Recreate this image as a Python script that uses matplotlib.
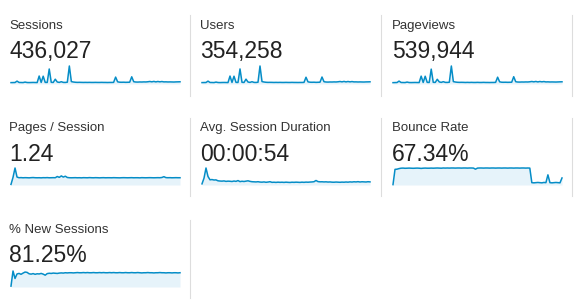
import matplotlib.pyplot as plt

W, H = 580, 307

titles = ["Sessions", "Users", "Pageviews",
          "Pages / Session", "Avg. Session Duration", "Bounce Rate",
          "% New Sessions"]
totals = ["436,027", "354,258", "539,944",
          "1.24", "00:00:54", "67.34%",
          "81.25%"]

sessions = [2300, 2400, 2500, 4800, 2600, 2500, 2400, 3200, 2500, 2400,
            2500, 2600, 2500, 2400, 13300, 2600, 13000, 2700, 2600, 25000,
            2800, 2600, 8000, 3300, 2700, 3800, 2700, 2600, 3000, 30000,
            4000, 3300, 2900, 2700, 2800, 2700, 2600, 2700, 2600, 2700,
            2600, 2600, 2700, 2600, 2600, 2700, 2600, 2600, 2500, 2600,
            2600, 2700, 11500, 3600, 3000, 2900, 3000, 2800, 2900, 3000,
            12000, 3800, 3300, 3200, 3400, 3300, 3500, 3400, 3700, 4200,
            3600, 4300, 3500, 4200, 3600, 4100, 3500, 3600, 3400, 3500,
            3400, 3300, 3500, 3600, 3700]

users = [1900, 2000, 2050, 3900, 2100, 2050, 1950, 2600, 2050, 1950,
         2050, 2100, 2050, 1950, 10800, 2100, 10600, 2200, 2100, 20500,
         2300, 2100, 6600, 2700, 2200, 3100, 2200, 2100, 2400, 24500,
         3300, 2700, 2350, 2200, 2250, 2200, 2100, 2200, 2100, 2200,
         2100, 2100, 2200, 2100, 2100, 2200, 2100, 2100, 2050, 2100,
         2100, 2200, 9200, 2900, 2450, 2350, 2450, 2250, 2350, 2450,
         9500, 3100, 2700, 2600, 2750, 2700, 2850, 2750, 3000, 3400,
         2900, 3500, 2850, 3400, 2900, 3300, 2850, 2900, 2750, 2850,
         2750, 2700, 2850, 2900, 3000]

pageviews = [2800, 3000, 3100, 6000, 3200, 3100, 3000, 4000, 3100, 3000,
             3100, 3200, 3100, 3000, 16400, 3200, 16200, 3400, 3200, 31000,
             3500, 3300, 9800, 4300, 3400, 4800, 3400, 3300, 3700, 37500,
             5000, 4100, 3600, 3400, 3500, 3400, 3200, 3400, 3200, 3400,
             3200, 3200, 3400, 3200, 3200, 3400, 3200, 3200, 3100, 3200,
             3200, 3400, 14200, 4500, 3700, 3600, 3700, 3500, 3600, 3700,
             15200, 4700, 4100, 4000, 4200, 4100, 4300, 4200, 4600, 5200,
             4500, 5300, 4300, 5200, 4500, 5100, 4300, 4500, 4200, 4300,
             4200, 4100, 4300, 4500, 4600]

pages_per_session = [0.10, 1.30, 2.90, 1.35, 1.24, 1.26, 1.23, 1.25, 1.24, 1.22,
                     1.25, 1.27, 1.24, 1.23, 1.24, 1.22, 1.25, 1.24, 1.26, 1.23,
                     1.24, 1.25, 1.24, 1.45, 1.30, 1.55, 1.35, 1.50, 1.28, 1.24,
                     1.23, 1.24, 1.25, 1.23, 1.24, 1.22, 1.25, 1.24, 1.23, 1.26,
                     1.24, 1.23, 1.25, 1.24, 1.22, 1.24, 1.25, 1.23, 1.24, 1.24,
                     1.23, 1.25, 1.24, 1.23, 1.22, 1.24, 1.25, 1.24, 1.23, 1.24,
                     1.25, 1.23, 1.24, 1.24, 1.22, 1.25, 1.24, 1.23, 1.24, 1.25,
                     1.24, 1.23, 1.24, 1.25, 1.24, 1.28, 1.42, 1.26, 1.24, 1.25,
                     1.23, 1.24, 1.25, 1.24, 1.24]

avg_duration = [20, 120, 300, 150, 92, 96, 88, 90, 74, 70,
                68, 72, 64, 68, 66, 62, 70, 64, 78, 60,
                66, 62, 68, 74, 64, 58, 56, 54, 58, 52,
                50, 54, 48, 52, 58, 47, 49, 46, 50, 47,
                49, 46, 50, 47, 45, 49, 47, 50, 48, 46,
                50, 47, 51, 49, 52, 54, 58, 80, 60, 56,
                57, 54, 56, 52, 54, 50, 49, 52, 50, 48,
                51, 49, 53, 50, 55, 52, 57, 54, 59, 53,
                57, 55, 53, 58, 55]

bounce_rate = [2, 80, 81, 84, 86, 86.5, 85.5, 86, 86.5, 86,
               85.5, 86, 86.5, 86, 85, 86, 86.5, 86, 86, 86.5,
               86, 86.5, 87, 86.5, 86, 87, 86.5, 87, 86.5, 87,
               87, 86.5, 87, 87, 86.5, 87, 87, 86.5, 87, 87,
               86.5, 81, 86.5, 87, 87, 86.5, 87, 87, 86.5, 87,
               87, 86.5, 87, 87, 86.5, 87, 87, 86.5, 87, 87,
               86.5, 87, 87, 86.5, 87, 87, 86.5, 87, 86.5, 12,
               11, 12, 13, 12, 11, 13, 12, 52, 12, 11,
               12, 13, 12, 11, 36]

new_sessions = [5, 92, 49, 75, 78, 73, 80, 86, 84, 76,
                74, 77, 73, 76, 75, 78, 74, 68, 77, 79,
                78, 80, 79, 78, 80, 81, 80, 82, 81, 82,
                82, 81, 82, 83, 82, 82, 83, 82, 83, 82,
                82, 83, 82, 82, 83, 82, 83, 82, 82, 83,
                82, 83, 82, 82, 83, 82, 82, 83, 82, 82,
                83, 82, 82, 83, 82, 81, 82, 82, 83, 82,
                82, 81, 82, 82, 83, 82, 82, 81, 82, 82,
                81, 82, 82, 81, 82]

series = [sessions, users, pageviews,
          pages_per_session, avg_duration, bounce_rate,
          new_sessions]

# layout in pixels
text_x = [9, 200, 392]
spark_x = [(11, 180), (202, 370), (393, 562)]
spark_y = [(66, 84), (168, 185), (271, 287)]
label_y = [29, 131, 233]
number_y = [58, 161, 262]
sep_x = [189.5, 380.5, 572]
sep_y = [(15, 96), (118, 196), (220, 298)]

LINE = "#058dc7"
FILL = "#e6f3fa"

fig = plt.figure(figsize=(W / 100, H / 100), dpi=100)
plt.rcParams['font.family'] = ['Liberation Sans', 'DejaVu Sans']

bg = fig.add_axes([0, 0, 1, 1])
bg.set_xlim(0, W)
bg.set_ylim(H, 0)
bg.axis("off")

for i, (title, total, vals) in enumerate(zip(titles, totals, series)):
    r, c = divmod(i, 3)
    bg.text(text_x[c], label_y[r], title, fontsize=9.5, color="#333333",
            va="baseline", ha="left")
    bg.text(text_x[c], number_y[r], total, fontsize=16.5, color="#222222",
            va="baseline", ha="left")
    bg.plot([sep_x[c], sep_x[c]], sep_y[r], color="#dddddd", lw=0.8)

    x0, x1 = spark_x[c]
    yt, yb = spark_y[r]
    ax = fig.add_axes([x0 / W, 1 - yb / H, (x1 - x0) / W, (yb - yt) / H])
    xs = list(range(len(vals)))
    ax.fill_between(xs, vals, 0, color=FILL, lw=0)
    ax.plot(xs, vals, color=LINE, lw=1.1, clip_on=False)
    ax.set_xlim(0, len(vals) - 1)
    ax.set_ylim(0, max(vals))
    ax.axis("off")

fig.savefig("out.png", dpi=100)
